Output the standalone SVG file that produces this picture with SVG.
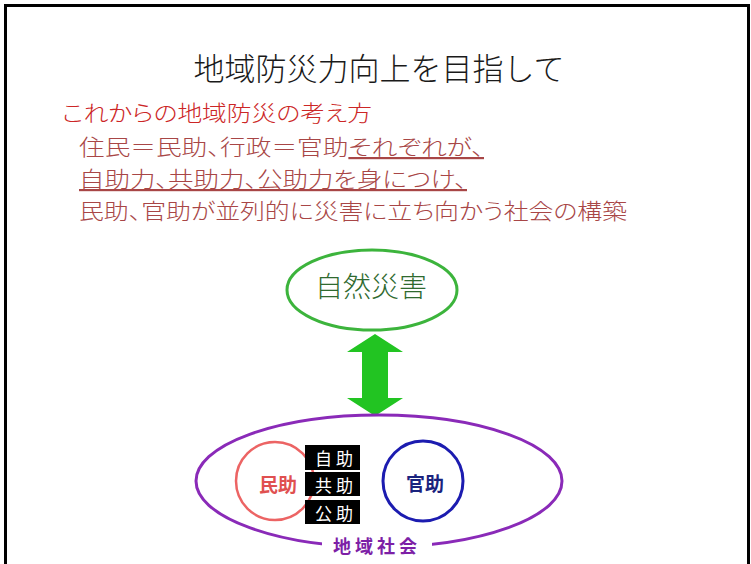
<svg xmlns="http://www.w3.org/2000/svg" width="751" height="564" viewBox="0 0 751 564">
<style>
.jp{font-family:"Noto Sans CJK JP","Noto Sans CJK SC",sans-serif;}
.title{font-size:31px;font-weight:300;fill:#1a1a1a;}
.sub{font-size:22px;font-weight:300;font-feature-settings:"palt";}
.red{fill:#cc2626;}
.body{fill:#a84646;}
.ul{text-decoration:underline;}
.box{fill:#000;}
.boxt{font-size:17px;fill:#fff;letter-spacing:4px;}
</style>
<rect width="751" height="564" fill="#fff"/>
<path d="M5.5,564 V5.5 H748.5 V564" fill="none" stroke="#000" stroke-width="3"/>
<g id="title"><text class="jp title" x="379" y="66" text-anchor="middle" dominant-baseline="central">地域防災力向上を目指して</text></g>
<g id="description">
<text class="jp sub red" x="62" y="111" dominant-baseline="central" textLength="310" lengthAdjust="spacingAndGlyphs">これからの地域防災の考え方</text>
<text class="jp sub body" x="79" y="145" dominant-baseline="central" textLength="405" lengthAdjust="spacingAndGlyphs">住民＝民助、行政＝官助<tspan class="ul">それぞれが、</tspan></text>
<text class="jp sub body ul" x="79" y="177" dominant-baseline="central" textLength="388" lengthAdjust="spacingAndGlyphs">自助力、共助力、公助力を身につけ、</text>
<text class="jp sub body" x="79" y="209" dominant-baseline="central" textLength="548" lengthAdjust="spacingAndGlyphs">民助、官助が並列的に災害に立ち向かう社会の構築</text>
</g>
<g id="connectors">
<path id="arrow" d="M375,334 L403,352 L388,352 L388,398 L403,398 L375,416 L347,398 L362,398 L362,352 L347,352 Z" fill="#22c422"/>
</g>
<g id="natural-disaster">
<ellipse cx="372" cy="290" rx="85" ry="40" fill="#fff" stroke="#3cb43c" stroke-width="3"/>
<text class="jp" x="371" y="285" text-anchor="middle" dominant-baseline="central" font-size="28" font-weight="300" fill="#2f6a2f">自然災害</text>
</g>
<g id="community">
<ellipse cx="379" cy="481" rx="183" ry="66" fill="none" stroke="#8a2ab8" stroke-width="3"/>
<rect x="322" y="535" width="110" height="22" fill="#fff"/>
<text class="jp" x="377" y="545" text-anchor="middle" dominant-baseline="central" font-size="18" font-weight="700" letter-spacing="4" fill="#7d1fa6">地域社会</text>
</g>
<g id="minjo">
<circle cx="275" cy="481" r="39" fill="none" stroke="#ec6464" stroke-width="2.5"/>
<text class="jp" x="278" y="483" text-anchor="middle" dominant-baseline="central" font-size="19" font-weight="700" fill="#e05050">民助</text>
</g>
<g id="kanjo">
<circle cx="423" cy="481" r="40" fill="none" stroke="#1c1cb0" stroke-width="3"/>
<text class="jp" x="425" y="482" text-anchor="middle" dominant-baseline="central" font-size="19" font-weight="700" fill="#1a237e">官助</text>
</g>
<g id="jijo">
<rect class="box" x="305" y="445" width="55" height="25"/>
<text class="jp boxt" x="336" y="457.5" text-anchor="middle" dominant-baseline="central">自助</text>
</g>
<g id="kyojo">
<rect class="box" x="305" y="472" width="55" height="24"/>
<text class="jp boxt" x="336" y="484" text-anchor="middle" dominant-baseline="central">共助</text>
</g>
<g id="kojo">
<rect class="box" x="305" y="500" width="55" height="24"/>
<text class="jp boxt" x="336" y="512" text-anchor="middle" dominant-baseline="central">公助</text>
</g>
</svg>
